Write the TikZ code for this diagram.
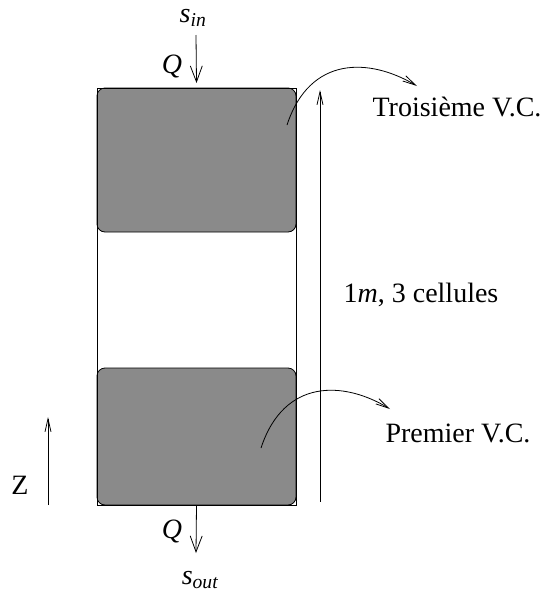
\documentclass[tikz,border=0pt]{standalone}
\usepackage{amsmath}
\usepackage{fontspec}
\setmainfont{Liberation Serif}
\usetikzlibrary{arrows.meta}
\definecolor{cellgray}{RGB}{138,138,138}
\tikzset{
  cell/.style={draw, fill=cellgray, rounded corners=8pt, inner sep=0pt, outer sep=0pt, minimum width=199pt},
  flow/.style={-{Straight Barb[length=16pt,width=12pt]}},
  barb/.style={-{Straight Barb[length=13pt,width=6pt]}},
  lbl/.style={font=\fontsize{28}{32}\selectfont, inner sep=0pt}
}
\begin{document}
\begin{tikzpicture}[x=1pt,y=-1pt,line width=0.8pt]
\useasboundingbox (0,0) rectangle (546,595);
% cells
\node[cell, minimum height=144pt] (cell3) at (196.5,160) {};
\node[cell, minimum height=137pt] (cell1) at (196.5,436.5) {};
\draw (cell3.north west) rectangle (cell1.south east);
% inflow / outflow
\node[lbl] (sin) at (193,18) {$\textit{s}_{\textit{in}}$};
\node[lbl] (qin) at (172,66) {\textit{Q}};
\coordinate (qtop) at (196,35);
\draw[flow] (qtop) -- ([yshift=5pt]cell3.north);
\node[lbl] (qout) at (172,531) {\textit{Q}};
\node[lbl] (sout) at (200,580) {$\textit{s}_{\textit{out}}$};
\coordinate (qbot) at (196,553);
\draw[flow] (cell1.south) -- (qbot);
% height
\coordinate (dimtop) at (320,90);
\coordinate (dimbot) at (320,502);
\draw[barb, {Straight Barb[length=13pt,width=6pt]}-] (dimtop) -- (dimbot);
\node[lbl] (height) at (421,295) {1\textit{m}, 3 cellules};
% z axis
\coordinate (zbot) at (48,505);
\coordinate (ztop) at (48,417);
\draw[barb] (zbot) -- (ztop);
\node[lbl] (zlabel) at (20,485) {Z};
% control volumes
\coordinate (in3) at (287,125);
\coordinate (to3) at (417,86);
\draw[barb] (in3) .. controls (310,55) and (370,58) .. (to3);
\node[lbl] (vc3) at (457,107) {Troisième V.C.};
\coordinate (in1) at (261,448);
\coordinate (to1) at (390,409);
\draw[barb] (in1) .. controls (284,378) and (344,381) .. (to1);
\node[lbl] (vc1) at (458,433) {Premier V.C.};
\end{tikzpicture}
\end{document}
